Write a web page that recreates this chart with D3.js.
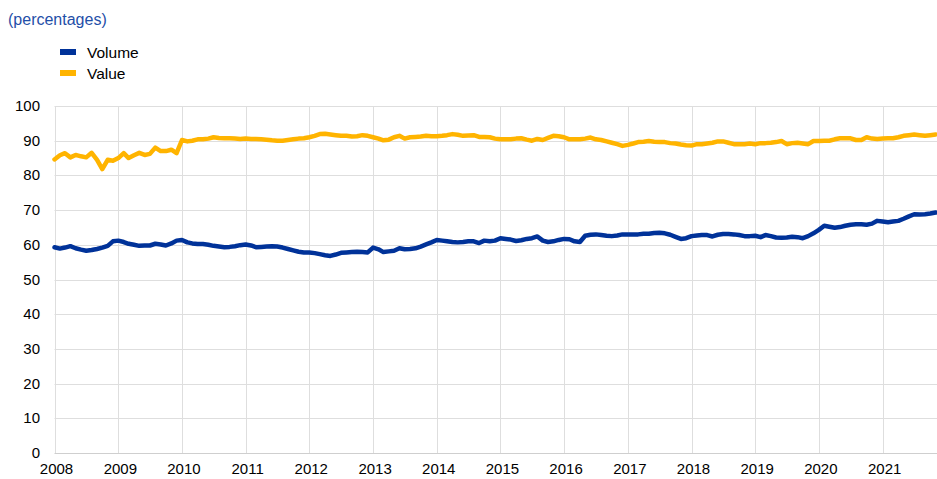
<!DOCTYPE html>
<html>
<head>
<meta charset="utf-8">
<script src="https://cdn.jsdelivr.net/npm/d3@7"></script>
<style>
  body { margin: 0; background: #fff; }
  svg { display: block; font-family: "Liberation Sans", Arial, sans-serif; }
</style>
</head>
<body>
<svg id="chart" width="937" height="479"></svg>
<script>
// monthly observations, Jan 2008 .. Nov 2021
const firstMonth = "2008-01";
const seriesNames = ["Volume", "Value"];
const seriesColors = ["#003299", "#ffb400"];

const volume = [
  59.3, 58.9, 59.2, 59.6, 59.0, 58.6, 58.3, 58.5, 58.8, 59.2, 59.7, 61.0,
  61.2, 60.8, 60.3, 60.0, 59.7, 59.8, 59.8, 60.3, 60.1, 59.8, 60.4, 61.2,
  61.4, 60.7, 60.4, 60.2, 60.2, 60.0, 59.7, 59.5, 59.3, 59.4, 59.6, 59.9,
  60.1, 59.8, 59.3, 59.4, 59.5, 59.6, 59.5, 59.2, 58.8, 58.4, 58.0, 57.8,
  57.8, 57.6, 57.3, 57.0, 56.8, 57.2, 57.7, 57.8, 57.9, 58.0, 57.9, 57.8,
  59.2, 58.7, 57.9, 58.1, 58.3, 59.0, 58.7, 58.8, 59.0, 59.5, 60.1, 60.7,
  61.4, 61.2, 61.0, 60.8, 60.7, 60.8, 61.0, 61.0, 60.5, 61.2, 61.0, 61.2,
  61.9, 61.7, 61.5, 61.1, 61.3, 61.7, 61.9, 62.4, 61.2, 60.8, 61.0, 61.4,
  61.7, 61.6, 61.0, 60.8, 62.6, 62.9, 63.0, 62.8, 62.6, 62.5, 62.7, 63.0,
  63.0, 63.0, 63.0, 63.2, 63.2, 63.4, 63.5, 63.3, 62.9, 62.3, 61.7, 61.9,
  62.5, 62.7, 62.8, 62.8, 62.4, 62.9, 63.1, 63.1, 63.0, 62.8, 62.5, 62.5,
  62.6, 62.2, 62.8, 62.5, 62.1, 62.0, 62.1, 62.3, 62.2, 61.9, 62.5, 63.3,
  64.3, 65.5, 65.2, 64.9, 65.1, 65.5, 65.8, 65.9, 65.9, 65.8, 66.1, 66.9,
  66.7, 66.5, 66.7, 66.9, 67.5, 68.2, 68.8, 68.7, 68.8, 69.0, 69.3
];

const value = [
  84.6, 85.8, 86.4, 85.2, 85.9, 85.5, 85.2, 86.5, 84.5, 81.8, 84.5, 84.2,
  85.0, 86.4, 85.0, 85.8, 86.5, 85.9, 86.2, 88.0, 87.0, 87.0, 87.4, 86.4,
  90.2, 89.8, 90.0, 90.4, 90.4, 90.6, 91.0, 90.8, 90.7, 90.7, 90.6, 90.5,
  90.6, 90.5, 90.5, 90.4, 90.3, 90.1, 90.0, 90.0, 90.2, 90.4, 90.6, 90.7,
  91.0, 91.4, 91.9, 92.0, 91.8, 91.6, 91.4, 91.4, 91.2, 91.3, 91.6, 91.4,
  91.0, 90.6, 90.1, 90.3, 91.0, 91.4, 90.6, 91.0, 91.1, 91.2, 91.4, 91.3,
  91.3, 91.4, 91.6, 91.9, 91.7, 91.4, 91.5, 91.6, 91.1, 91.1, 91.0, 90.6,
  90.4, 90.4, 90.4, 90.6, 90.7, 90.3, 90.0, 90.5, 90.2, 90.8, 91.4, 91.3,
  91.0, 90.4, 90.4, 90.4, 90.6, 90.9, 90.4, 90.2, 89.8, 89.4, 89.0, 88.5,
  88.8, 89.2, 89.6, 89.7, 89.9, 89.7, 89.6, 89.6, 89.3, 89.2, 88.9, 88.7,
  88.6, 89.0, 89.0, 89.2, 89.4, 89.8, 89.8, 89.4, 89.0, 89.0, 89.0, 89.2,
  89.0, 89.3, 89.3, 89.4, 89.6, 89.9, 89.0, 89.3, 89.4, 89.2, 89.0, 89.9,
  89.9, 90.0, 90.0, 90.4, 90.7, 90.7, 90.7, 90.2, 90.2, 91.0, 90.6, 90.5,
  90.6, 90.7, 90.7, 91.0, 91.4, 91.6, 91.8, 91.6, 91.4, 91.6, 91.8
];

const yearTicks = [2008, 2009, 2010, 2011, 2012, 2013, 2014, 2015, 2016, 2017, 2018, 2019, 2020, 2021];
const yTicks = [0, 10, 20, 30, 40, 50, 60, 70, 80, 90, 100];

var svg = d3.select("#chart"),
    plotLeft = 54.5, plotTop = 106, plotBottom = 453;

var parseMonth = d3.timeParse("%Y-%m");
var start = parseMonth(firstMonth);
var dates = volume.map((d, i) => d3.timeMonth.offset(start, i));

var x = d3.scaleTime()
    .domain([new Date(2008, 0, 1), new Date(2022, 0, 1)])
    .range([plotLeft, plotLeft + 14 * 63.7]);

var y = d3.scaleLinear()
    .domain([0, 100])
    .range([plotBottom, plotTop]);

// horizontal grid
svg.append("g")
    .selectAll("line")
    .data(yTicks)
  .enter().append("line")
    .attr("x1", plotLeft).attr("x2", 937)
    .attr("y1", d => Math.round(y(d)) + 0.5)
    .attr("y2", d => Math.round(y(d)) + 0.5)
    .attr("stroke", d => d === 0 ? "#cfcfcf" : "#dedede")
    .attr("stroke-width", 1);

// vertical grid
svg.append("g")
    .selectAll("line")
    .data(yearTicks)
  .enter().append("line")
    .attr("x1", d => Math.round(x(new Date(d, 0, 1))) + 0.5)
    .attr("x2", d => Math.round(x(new Date(d, 0, 1))) + 0.5)
    .attr("y1", plotTop).attr("y2", plotBottom)
    .attr("stroke", "#dedede")
    .attr("stroke-width", 1);

// y labels
svg.append("g")
    .selectAll("text")
    .data(yTicks)
  .enter().append("text")
    .attr("x", 40)
    .attr("y", d => y(d) + 5)
    .attr("text-anchor", "end")
    .attr("font-size", 15)
    .attr("fill", "#000")
    .text(d => d);

// x labels
svg.append("g")
    .selectAll("text")
    .data(yearTicks)
  .enter().append("text")
    .attr("x", d => x(new Date(d, 0, 1)) + 2)
    .attr("y", 474)
    .attr("text-anchor", "middle")
    .attr("font-size", 15)
    .attr("fill", "#000")
    .text(d => d);

var line = d3.line()
    .x((d, i) => x(dates[i]))
    .y(d => y(d))
    .curve(d3.curveLinear);

[volume, value].forEach(function(series, k) {
  svg.append("path")
    .datum(series)
    .attr("fill", "none")
    .attr("stroke", seriesColors[k])
    .attr("stroke-width", 4.5)
    .attr("stroke-linejoin", "round")
    .attr("stroke-linecap", "round")
    .attr("d", line);
});

// title
svg.append("text")
    .attr("x", 8).attr("y", 25)
    .attr("font-size", 16)
    .attr("fill", "#1f4fa8")
    .text("(percentages)");

// legend
var legend = svg.append("g")
  .selectAll("g")
  .data(seriesNames)
  .enter().append("g")
    .attr("transform", (d, i) => "translate(60," + (52 + i * 21) + ")");

legend.append("rect")
    .attr("x", 0).attr("y", -3)
    .attr("width", 16).attr("height", 6)
    .attr("fill", (d, i) => seriesColors[i]);

legend.append("text")
    .attr("x", 27).attr("y", 6)
    .attr("font-size", 15.5)
    .attr("fill", "#000")
    .text(d => d);
</script>
</body>
</html>
